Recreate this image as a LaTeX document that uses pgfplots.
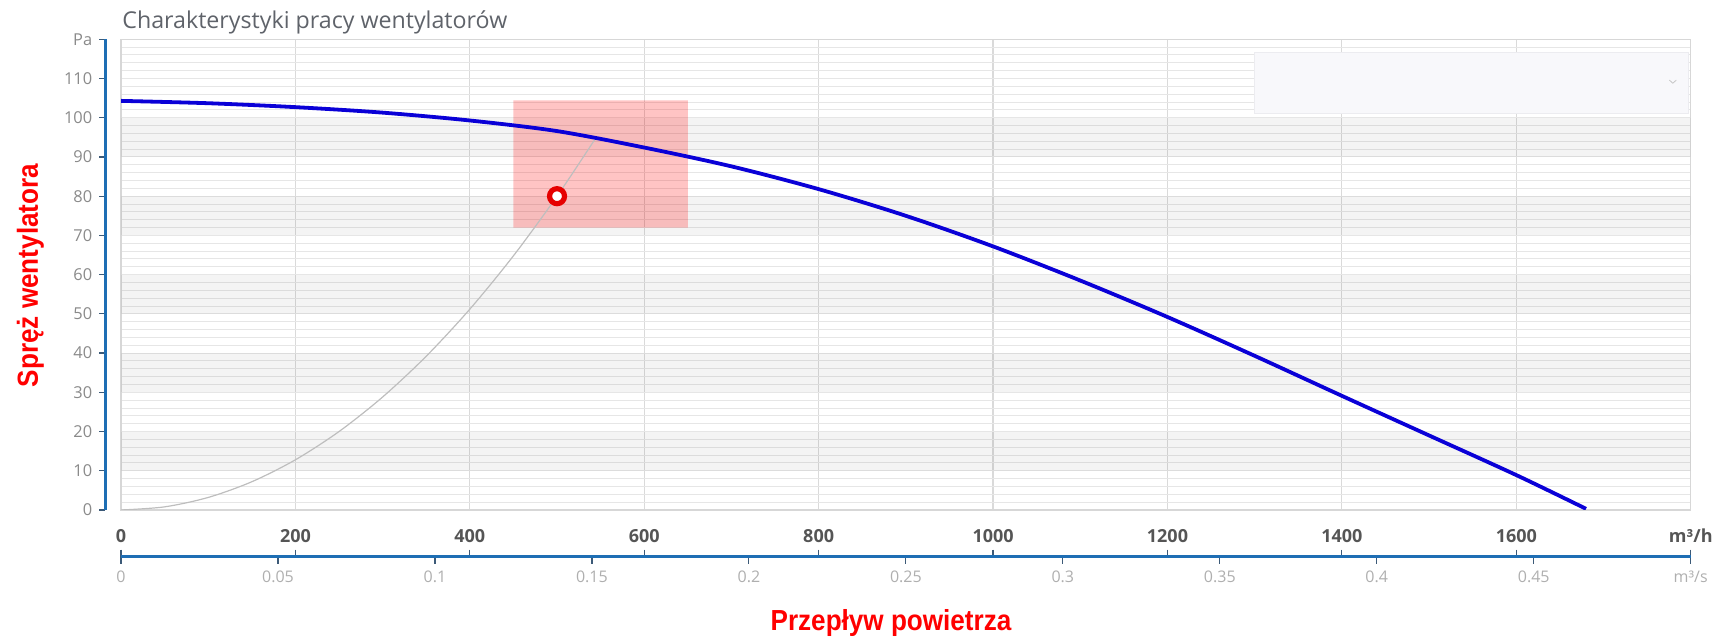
\documentclass[border=0pt]{standalone}
\usepackage{fontspec}
\setmainfont{Open Sans}
\newfontfamily\labelfont{Liberation Sans}
\usepackage{graphicx}
\usepackage{pgfplots}
\pgfplotsset{compat=1.18}
\definecolor{axblue}{RGB}{30,110,180}
\definecolor{tickblue}{RGB}{60,90,120}
\definecolor{gridc}{RGB}{230,230,230}
\definecolor{vgridc}{RGB}{218,218,218}
\definecolor{framec}{RGB}{215,215,215}
\definecolor{fanblue}{RGB}{10,0,215}
\definecolor{syscurve}{RGB}{190,190,190}
\definecolor{titlec}{RGB}{95,99,106}
\definecolor{ticklab}{RGB}{138,138,138}
\definecolor{ticklabB}{RGB}{85,85,85}
\definecolor{ticklabC}{RGB}{175,175,175}
\definecolor{boxc}{RGB}{248,248,251}
\definecolor{boxb}{RGB}{236,236,240}
\definecolor{ptred}{RGB}{230,0,0}
\begin{document}
\begin{tikzpicture}
\useasboundingbox (-60.5pt,-65pt) rectangle (798pt,255pt);
% main plot area
\begin{axis}[at={(0,0)}, anchor=south west, scale only axis,
  width=784.85pt, height=235.35pt,
  xmin=0, xmax=1800, ymin=0, ymax=120,
  axis line style={framec, line width=0.6pt},
  xtick={0,200,...,1800}, ytick={0,2,...,120},
  xticklabels={}, yticklabels={},
  major tick length=0pt,
  xmajorgrids, ymajorgrids,
  x grid style={vgridc, line width=0.6pt},
  y grid style={gridc, line width=0.5pt},
  clip=true]
\fill[black, fill opacity=0.045] (axis cs:0,10) rectangle (axis cs:1800,20);
\fill[black, fill opacity=0.045] (axis cs:0,30) rectangle (axis cs:1800,40);
\fill[black, fill opacity=0.045] (axis cs:0,50) rectangle (axis cs:1800,60);
\fill[black, fill opacity=0.045] (axis cs:0,70) rectangle (axis cs:1800,80);
\fill[black, fill opacity=0.045] (axis cs:0,90) rectangle (axis cs:1800,100);
\draw[fill=boxc, draw=boxb, line width=0.5pt] (axis cs:1300,101) rectangle (axis cs:1798,116.7);
\draw[gray!45, line width=0.4pt] (axis cs:1775.5,109.6) -- (axis cs:1779.5,108.8) -- (axis cs:1783.5,109.6);
\addplot[draw=none, fill=red, fill opacity=0.23] coordinates {(450,72) (650,72) (650,104.4) (450,104.4) (450,72)};
\addplot[syscurve, line width=0.6pt, smooth] coordinates {
(0,0) (50,0.8) (100,3.2) (150,7.2) (200,12.8) (250,20) (300,28.8) (350,39.2) (400,51.2) (450,64.8) (500,80) (543,94.35)};
\addplot[fanblue, line width=1.9pt, smooth] coordinates {
(0,104.3) (100,103.7) (200,102.7) (300,101.3) (400,99.3) (500,96.6) (600,92.4) (700,87.6) (800,81.8) (900,75) (1000,67.2) (1100,58.5) (1200,49.2) (1300,39.3) (1400,29.1) (1500,19.0) (1600,8.9) (1680,0.3)};
\addplot[only marks, mark=*, mark size=3.75pt, mark options={draw=ptred, fill=white, line width=2.6pt}] coordinates {(500,80)};
\end{axis}
% y axis
\begin{axis}[at={(-7.85pt,0)}, anchor=south west, scale only axis,
  width=784.85pt, height=235.35pt,
  xmin=0, xmax=1800, ymin=0, ymax=120,
  axis x line=none, axis y line*=left,
  axis line style={axblue, line width=1.5pt, -},
  ytick={0,10,...,120},
  yticklabels={0,10,20,30,40,50,60,70,80,90,100,110,Pa},
  tick align=outside, major tick length=3pt,
  y tick style={tickblue, line width=0.6pt},
  yticklabel style={font=\fontsize{8.2}{10}\selectfont, text=ticklab},
  /pgf/number format/assume math mode=true]
\addplot[draw=none] coordinates {(0,0)};
\end{axis}
% m3/h axis
\begin{axis}[at={(0,-23.35pt)}, anchor=north west, scale only axis,
  width=784.85pt, height=20pt,
  xmin=0, xmax=1800, ymin=0, ymax=1,
  axis y line=none, axis x line*=top,
  axis line style={axblue, line width=1.8pt, -},
  xtick={0,200,...,1800},
  xticklabels={0,200,400,600,800,1000,1200,1400,1600,m³/h},
  tick align=outside, major tick length=3.5pt,
  x tick style={tickblue, line width=0.6pt},
  xticklabel style={font=\bfseries\fontsize{9}{11}\selectfont, text=ticklabB},
  /pgf/number format/assume math mode=true]
\addplot[draw=none] coordinates {(0,0)};
\end{axis}
% m3/s axis
\begin{axis}[at={(0,-23.35pt)}, anchor=south west, scale only axis,
  width=784.85pt, height=20pt,
  xmin=0, xmax=0.5, ymin=0, ymax=1,
  axis y line=none, axis x line*=bottom,
  axis line style={axblue, line width=1.8pt, -},
  xtick={0,0.05,0.1,0.15,0.2,0.25,0.3,0.35,0.4,0.45,0.5},
  xticklabels={0,0.05,0.1,0.15,0.2,0.25,0.3,0.35,0.4,0.45,m³/s},
  scaled x ticks=false,
  tick align=outside, major tick length=3.5pt,
  x tick style={tickblue, line width=0.6pt},
  xticklabel style={font=\fontsize{8}{10}\selectfont, text=ticklabC},
  /pgf/number format/assume math mode=true]
\addplot[draw=none] coordinates {(0,0)};
\end{axis}
\node[anchor=base west, font=\fontsize{11.6}{13}\selectfont, text=titlec, inner sep=0pt] at (0.5pt,240.85pt) {Charakterystyki pracy wentylatorów};
\node[anchor=base, font=\labelfont\bfseries\fontsize{14.5}{17}\selectfont, text=red, inner sep=0pt] at (385pt,-60.5pt) {\scalebox{0.9}[1]{Przepływ powietrza}};
\node[anchor=base, rotate=90, font=\labelfont\bfseries\fontsize{14.5}{17}\selectfont, text=red, inner sep=0pt] at (-41.5pt,117.25pt) {\scalebox{0.9}[1]{Spręż wentylatora}};
\end{tikzpicture}
\end{document}
